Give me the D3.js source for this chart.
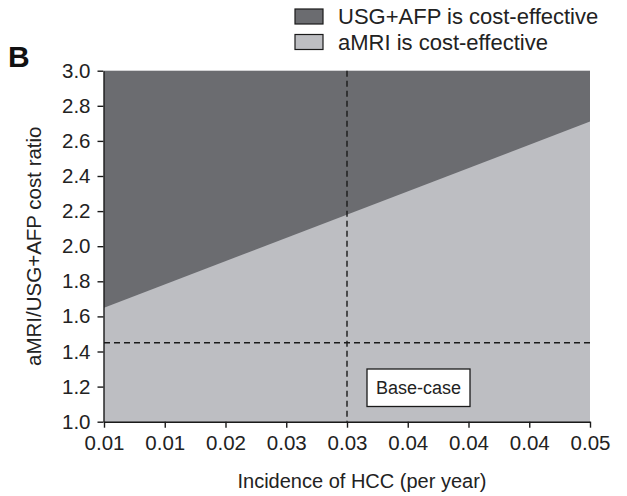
<!DOCTYPE html>
<html><head><meta charset="utf-8">
<script src="https://cdn.jsdelivr.net/npm/d3@7"></script>
<style>body{margin:0;background:#fff}svg{display:block;font-family:"Liberation Sans",Arial,sans-serif}</style>
</head><body><svg id="c" width="627" height="496"></svg>
<script>
const xTickValues = [0.01,0.015,0.02,0.025,0.03,0.035,0.04,0.045,0.05];
const xTickLabels = ["0.01","0.01","0.02","0.03","0.03","0.04","0.04","0.04","0.05"];
const yTickValues = [1.0,1.2,1.4,1.6,1.8,2.0,2.2,2.4,2.6,2.8,3.0];
const boundaryIncidence = [0.01, 0.05];
const boundaryRatio = [1.65, 2.71];
const baseIncidence = 0.03;
const baseRatio = 1.45;
const legendLabels = ["USG+AFP is cost-effective","aMRI is cost-effective"];
const colors = ["#6b6c70","#bdbec2"];

const svg = d3.select("#c");
const m = {l:104, r:590, t:70.7, b:421.7};
const x = d3.scaleLinear().domain([0.01,0.05]).range([m.l, m.r]);
const y = d3.scaleLinear().domain([1.0,3.0]).range([m.b, m.t]);

svg.append("rect").attr("x",x(0.01)).attr("y",y(3)).attr("width",x(0.05)-x(0.01)).attr("height",y(1)-y(3)).attr("fill",colors[0]);
const pts = boundaryIncidence.map((d,i)=>[x(d),y(boundaryRatio[i])]);
const poly = [[x(0.01),y(1)], ...pts, [x(0.05),y(1)]];
svg.append("path").attr("d", d3.line()(poly)+"Z").attr("fill",colors[1]);

svg.append("line").attr("x1",x(baseIncidence)).attr("x2",x(baseIncidence)).attr("y1",y(3)).attr("y2",y(1))
  .attr("stroke","#1a1a1a").attr("stroke-width",1.4).attr("stroke-dasharray","6,4");
svg.append("line").attr("x1",x(0.01)).attr("x2",x(0.05)).attr("y1",y(baseRatio)).attr("y2",y(baseRatio))
  .attr("stroke","#1a1a1a").attr("stroke-width",1.4).attr("stroke-dasharray","6,4");

const bx = x(baseIncidence)+20, by = 369;
svg.append("rect").attr("x",bx).attr("y",by).attr("width",103).attr("height",37.5).attr("fill","#fff").attr("stroke","#1a1a1a").attr("stroke-width",1.3);
svg.append("text").attr("x",bx+51.5).attr("y",by+25).attr("text-anchor","middle").attr("font-size",18).attr("fill","#222").text("Base-case");

const xAxis = d3.axisBottom(x).tickValues(xTickValues).tickFormat((d,i)=>xTickLabels[i]).tickSize(6).tickSizeOuter(0);
const gx = svg.append("g").attr("transform",`translate(0,${m.b})`).call(xAxis);
const yAxis = d3.axisLeft(y).tickValues(yTickValues).tickFormat(d3.format(".1f")).tickSize(6).tickSizeOuter(0);
const gy = svg.append("g").attr("transform",`translate(${m.l-0.5},0)`).call(yAxis);
svg.selectAll("g").attr("font-family",null).attr("font-size",20.5);
gx.selectAll("text").attr("fill","#222").attr("y",10).attr("dy","0.9em");
gy.selectAll("text").attr("fill","#222").attr("x",-13);
svg.selectAll(".domain, .tick line").attr("stroke","#1a1a1a").attr("stroke-width",1.4);

svg.append("text").attr("x",362).attr("y",488).attr("text-anchor","middle").attr("font-size",20).attr("fill","#222").text("Incidence of HCC (per year)");
svg.append("text").attr("transform",`translate(41,${(m.t+m.b)/2}) rotate(-90)`).attr("text-anchor","middle").attr("font-size",20.5).attr("fill","#222").text("aMRI/USG+AFP cost ratio");

svg.append("text").attr("x",8).attr("y",67).attr("font-size",30).attr("font-weight","bold").attr("fill","#111").text("B");

legendLabels.forEach((t,i)=>{
  const ly = 9 + i*25.5;
  svg.append("rect").attr("x",295).attr("y",ly).attr("width",28).attr("height",15).attr("fill",colors[i]).attr("stroke","#1a1a1a").attr("stroke-width",1.2);
  svg.append("text").attr("x",338).attr("y",ly+15).attr("font-size",22).attr("fill","#222").text(t);
});
</script></body></html>
